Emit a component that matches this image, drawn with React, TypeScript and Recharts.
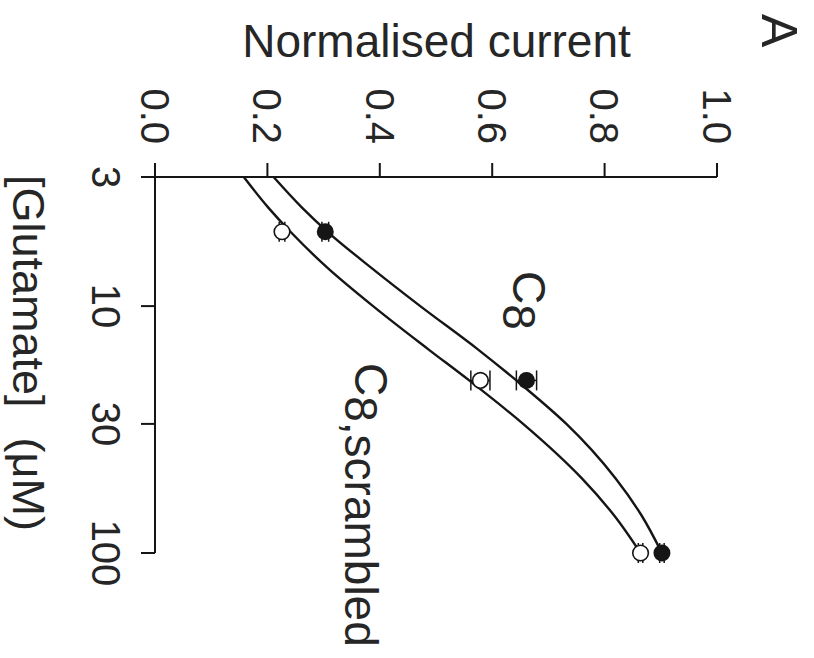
import React from 'react';
import { ComposedChart, Line, Scatter, XAxis, YAxis, ErrorBar } from 'recharts';

// Hill fits at a handful of concentrations (uM)
const fitConc = [3, 4, 5, 7, 10, 15, 20, 30, 50, 70, 100];
const fitC8 = [0.211, 0.262, 0.307, 0.385, 0.472, 0.575, 0.643, 0.732, 0.82, 0.865, 0.902];
const fitScrambled = [0.158, 0.202, 0.241, 0.307, 0.388, 0.487, 0.559, 0.655, 0.76, 0.816, 0.864];

// measured points (mean +/- sem)
const pointConc = [5, 20, 100];
const c8Mean = [0.303, 0.661, 0.902];
const c8Sem = [0.006, 0.018, 0.004];
const scrMean = [0.226, 0.579, 0.864];
const scrSem = [0.005, 0.017, 0.004];

const xTicks = [3, 10, 30, 100];
const yTicks = [0, 0.2, 0.4, 0.6, 0.8, 1.0];

const INK = '#151515';
const TEXT = '#262626';

const c8Line = fitConc.map((g, i) => ({ g, v: fitC8[i] }));
const scrLine = fitConc.map((g, i) => ({ g, v: fitScrambled[i] }));
const c8Points = pointConc.map((g, i) => ({ g, v: c8Mean[i], e: c8Sem[i] }));
const scrPoints = pointConc.map((g, i) => ({ g, v: scrMean[i], e: scrSem[i] }));

const NoDot = () => <g />;
const FilledDot = (props: any) => <circle cx={props.cx} cy={props.cy} r={8.5} fill={INK} />;
const OpenDot = (props: any) => (
    <circle cx={props.cx} cy={props.cy} r={7.8} fill="#fff" stroke={INK} strokeWidth={1.6} />
);

export default function App() {
    // the figure is printed sideways, so draw it upright and turn it 90deg clockwise
    return (
        <div style={{ position: 'absolute', left: 0, top: 0, width: 814, height: 658, overflow: 'hidden', background: '#fff' }}>
            <div
                style={{
                    position: 'absolute',
                    left: 0,
                    top: 0,
                    width: 658,
                    height: 814,
                    transformOrigin: '0 0',
                    transform: 'translate(814px, 0) rotate(90deg)',
                    fontFamily: '"Liberation Sans", Arial, sans-serif',
                }}
            >
                <ComposedChart width={658} height={814} margin={{ top: 97, right: 105, bottom: 0, left: 0 }}>
                    <XAxis
                        dataKey="g"
                        type="number"
                        scale="log"
                        domain={[3, 100]}
                        ticks={xTicks}
                        interval={0}
                        height={155}
                        tickSize={14}
                        tickMargin={21}
                        axisLine={{ stroke: INK, strokeWidth: 2 }}
                        tickLine={{ stroke: INK, strokeWidth: 2 }}
                        tick={{ fill: TEXT, fontSize: 40 }}
                    />
                    <YAxis
                        dataKey="v"
                        type="number"
                        domain={[0, 1]}
                        ticks={yTicks}
                        interval={0}
                        width={177}
                        tickSize={14}
                        tickMargin={19}
                        tickFormatter={(v) => Number(v).toFixed(1)}
                        axisLine={{ stroke: INK, strokeWidth: 2 }}
                        tickLine={{ stroke: INK, strokeWidth: 2 }}
                        tick={{ fill: TEXT, fontSize: 40 }}
                    />
                    <Line data={c8Line} dataKey="v" type="monotone" stroke={INK} strokeWidth={2.4} dot={false} isAnimationActive={false} />
                    <Line data={scrLine} dataKey="v" type="monotone" stroke={INK} strokeWidth={2.4} dot={false} isAnimationActive={false} />
                    {/* error bars first so the markers sit on top of them */}
                    <Scatter data={scrPoints} dataKey="v" shape={NoDot} isAnimationActive={false}>
                        <ErrorBar dataKey="e" direction="y" width={10} stroke={INK} strokeWidth={1.5} />
                    </Scatter>
                    <Scatter data={c8Points} dataKey="v" shape={NoDot} isAnimationActive={false}>
                        <ErrorBar dataKey="e" direction="y" width={10} stroke={INK} strokeWidth={1.5} />
                    </Scatter>
                    <Scatter data={scrPoints} dataKey="v" shape={OpenDot} isAnimationActive={false} />
                    <Scatter data={c8Points} dataKey="v" shape={FilledDot} isAnimationActive={false} />

                    <text x={57} y={377.5} transform="rotate(-90 57 377.5)" textAnchor="middle" fontSize={46} fill={TEXT}>
                        Normalised current
                    </text>
                    <text x={175} y={801} fontSize={45} fill={TEXT}>
                        [Glutamate]<tspan dx={30}>(μM)</tspan>
                    </text>
                    <text x={271} y={301} fontSize={46} fill={TEXT}>
                        C<tspan dy={10}>8</tspan>
                    </text>
                    <text x={363} y={459} fontSize={46} fill={TEXT}>
                        C<tspan dy={10}>8,scrambled</tspan>
                    </text>
                    <text x={14} y={52} fontSize={50} fill={TEXT}>A</text>
                </ComposedChart>
            </div>
        </div>
    );
}
